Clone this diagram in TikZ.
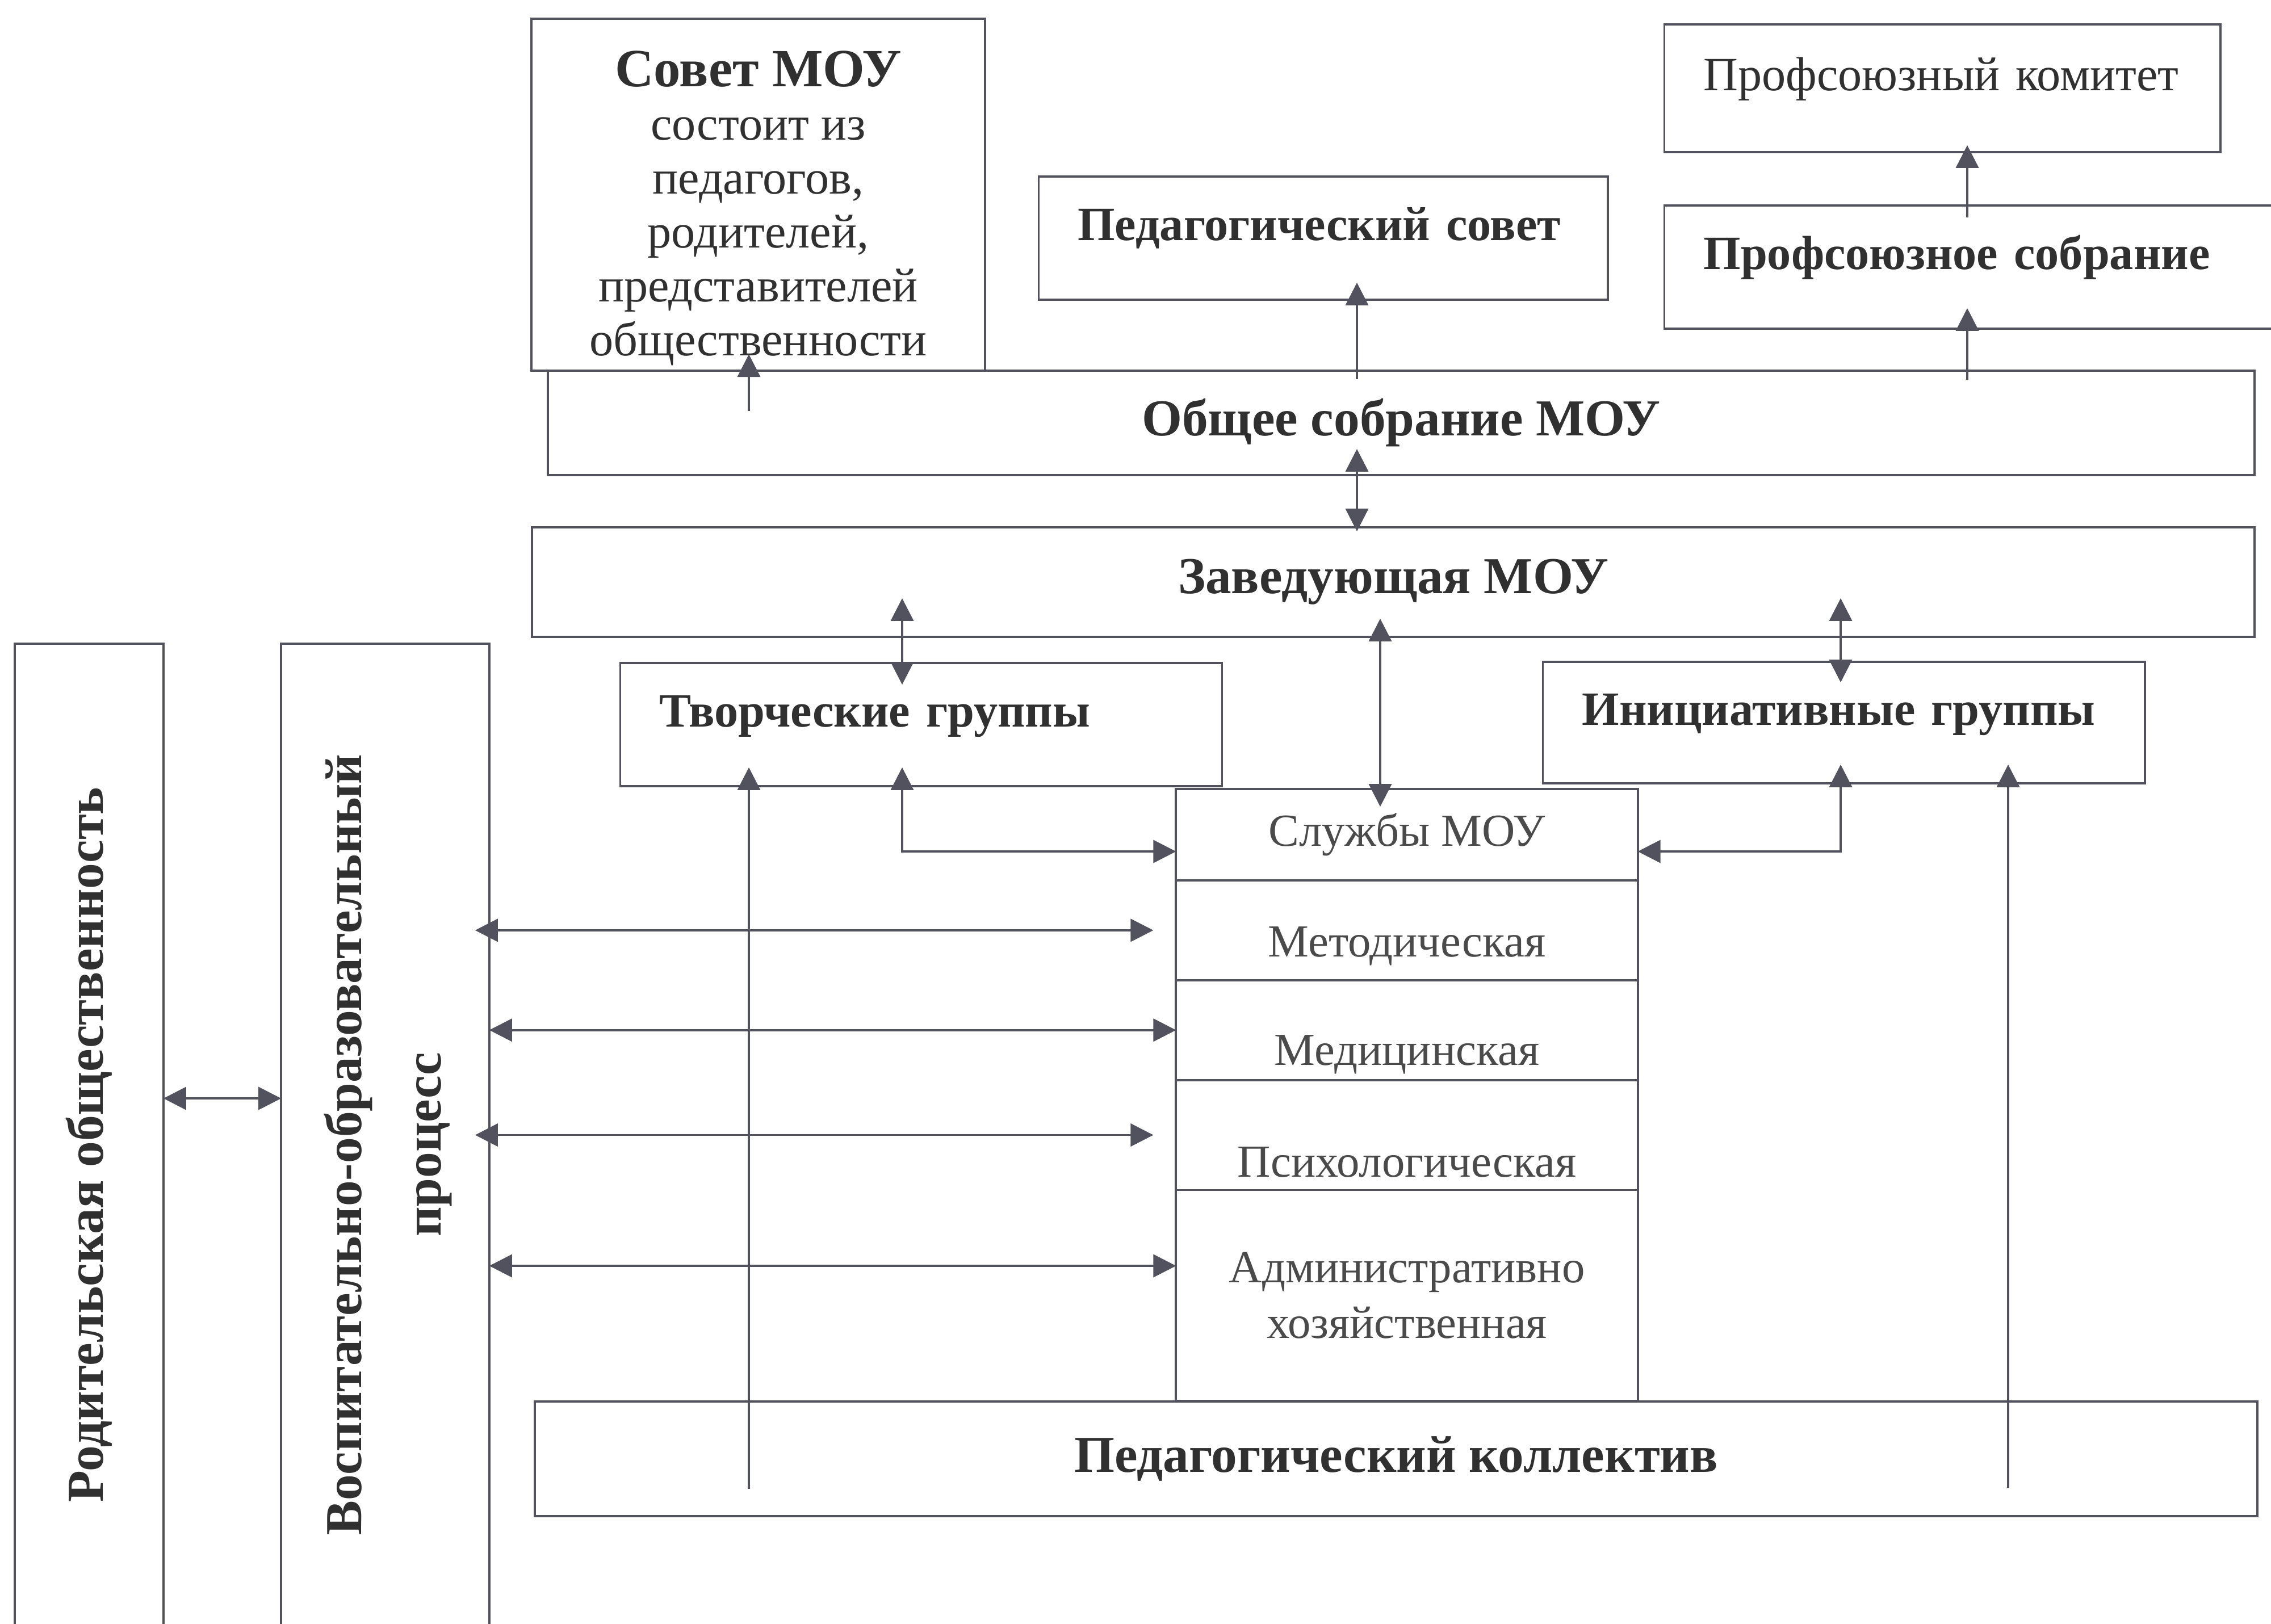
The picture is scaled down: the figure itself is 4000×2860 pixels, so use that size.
\documentclass[tikz,border=0pt]{standalone}
\usepackage{fontspec}
\setmainfont{Liberation Serif}
\usepackage{xcolor}
\usetikzlibrary{arrows.meta,positioning,calc}
\definecolor{lncol}{HTML}{52525E}
\definecolor{txcol}{HTML}{303030}
\definecolor{svcol}{HTML}{4A4A4A}

\begin{document}
\begin{tikzpicture}[x=0.005cm,y=-0.005cm,
    blk/.style={draw=lncol,line width=0.55pt,text=txcol,inner sep=0pt,outer sep=0pt,align=center,font=\fontsize{12}{13.5}\selectfont},
    lbox/.style={blk,align=left,inner xsep=0.345cm,text height=0.32cm,text depth=0.28cm},
    hd/.style={font=\fontsize{12}{14}\selectfont\bfseries},
    hdbig/.style={font=\fontsize{13}{15}\selectfont\bfseries},
    srv/.style={blk,minimum width=4.07cm,text=svcol,font=\fontsize{11.5}{14}\selectfont},
    arr/.style={draw=lncol,line width=0.55pt,-{Triangle[length=2mm,width=2mm]}},
    arr2/.style={draw=lncol,line width=0.55pt,{Triangle[length=2mm,width=2mm]}-{Triangle[length=2mm,width=2mm]}}]
    \useasboundingbox (0,0) rectangle (4000,2860);
    \clip (0,0) rectangle (4000,2860);

    % upper row
    \node[blk,minimum width=3.995cm,minimum height=3.1cm] (sovet) at (1335.5,343)
        {\rule{0pt}{0.55cm}{\fontsize{13.5}{13.5}\selectfont\bfseries Совет МОУ}\\состоит из\\педагогов,\\родителей,\\представителей\\общественности};
    \node[lbox,text width=4.21cm,minimum height=1.125cm] (profkom) at (3421,155.5) {Профсоюзный комитет};
    \node[lbox,hd,text width=4.325cm,minimum height=1.085cm] (pedsovet) at (2330.5,419.5) {Педагогический совет};
    \node[lbox,hd,text width=4.855cm,minimum height=1.085cm] (profsobr) at (3485.5,470.5) {Профсоюзное собрание};
    \node[blk,hdbig,minimum width=15.04cm,minimum height=0.92cm] (obshee) at (2468,745) {Общее собрание МОУ};
    \node[blk,hdbig,minimum width=15.18cm,minimum height=0.965cm] (zav) at (2454,1025.5) {Заведующая МОУ};
    \node[lbox,hd,text width=4.615cm,minimum height=1.085cm] (tvor) at (1622.5,1276.5) {Творческие группы};
    \node[lbox,hd,text width=4.615cm,minimum height=1.07cm] (ini) at (3247.5,1273) {Инициативные группы};

    % services column
    \node[srv,minimum height=0.805cm] (sl) at (2478,1470.5) {Службы МОУ};
    \node[srv,minimum height=0.88cm,text height=0.57cm,text depth=0.1cm,below=0pt of sl] (met) {Методическая};
    \node[srv,minimum height=0.88cm,text height=0.72cm,text depth=0.1cm,below=0pt of met] (med) {Медицинская};
    \node[srv,minimum height=0.97cm,text height=0.84cm,text depth=0.1cm,below=0pt of med] (psy) {Психологическая};
    \node[srv,minimum height=1.86cm,below=0pt of psy] (adm) {Административно\\хозяйственная};
    \node[blk,hdbig,minimum width=15.18cm,minimum height=1.01cm] (pedkol) at (2459,2570) {Педагогический коллектив};

    % left columns
    \node[blk,hdbig,minimum width=1.31cm,minimum height=8.835cm] (rod) at (157,2016.5)
        {\rotatebox{90}{Родительская общественность}};
    \node[blk,font=\fontsize{13}{20}\selectfont\bfseries,minimum width=1.835cm,minimum height=8.835cm] (vop) at (678.5,2016.5)
        {\rotatebox{90}{\begin{tabular}{@{}c@{}}Воспитательно-образовательный\\процесс\end{tabular}}};

    \coordinate (xs) at (1319,0);
    \coordinate (xc) at (2390,0);
    \coordinate (xp) at (3465,0);
    \coordinate (xt) at (1589,0);
    \coordinate (xi) at (3242,0);
    \coordinate (xz) at (2431,0);
    \coordinate (xk) at (3537,0);
    \coordinate (ys) at (0,1500);
    \coordinate (yr) at (0,1935);
    \coordinate (ya) at (0,2230);

    \draw[arr] ($(obshee.north -| xs)+(0,71)$) -- ($(obshee.north -| xs)+(0,-29)$);
    \draw[arr,shorten <=-0.75mm,shorten >=-1.5mm] (obshee.north -| xc) -- (pedsovet.south -| xc);
    \draw[arr,shorten <=-0.8mm,shorten >=-1.8mm] (obshee.north -| xp) -- (profsobr.south -| xp);
    \draw[arr,shorten <=-1.05mm,shorten >=-0.6mm] (profsobr.north -| xp) -- (profkom.south -| xp);
    \draw[arr2,shorten <=-2.3mm,shorten >=-0.35mm] (obshee.south -| xc) -- (zav.north -| xc);
    \draw[arr2,shorten <=-3.4mm,shorten >=-1.9mm] (zav.south -| xt) -- (tvor.north -| xt);
    \draw[arr2,shorten <=-3.4mm,shorten >=-1.8mm] (zav.south -| xi) -- (ini.north -| xi);
    \draw[arr2,shorten <=-1.6mm,shorten >=-1.55mm] (zav.south -| xz) -- (sl.north -| xz);
    \draw[arr2,shorten <=-1.65mm] (tvor.south -| xt) |- (sl.west |- ys);
    \draw[arr2,shorten <=-1.65mm] (ini.south -| xi) |- (sl.east |- ys);
    \draw[arr,shorten <=2.4mm,shorten >=-1.65mm] (pedkol.south -| xs) -- (tvor.south -| xs);
    \draw[arr,shorten <=2.5mm,shorten >=-1.65mm] (pedkol.south -| xk) -- (ini.south -| xk);

    \draw[arr2,shorten <=-1.25mm,shorten >=2mm] (vop.east |- met.west) -- (met.west);
    \draw[arr2] (vop.east |- med.west) -- (med.west);
    \draw[arr2,shorten <=-1.25mm,shorten >=2mm] (vop.east |- psy.west) -- (psy.west);
    \draw[arr2] (vop.east |- ya) -- (adm.west |- ya);
    \draw[arr2] (rod.east |- yr) -- (vop.west |- yr);
\end{tikzpicture}
\end{document}
